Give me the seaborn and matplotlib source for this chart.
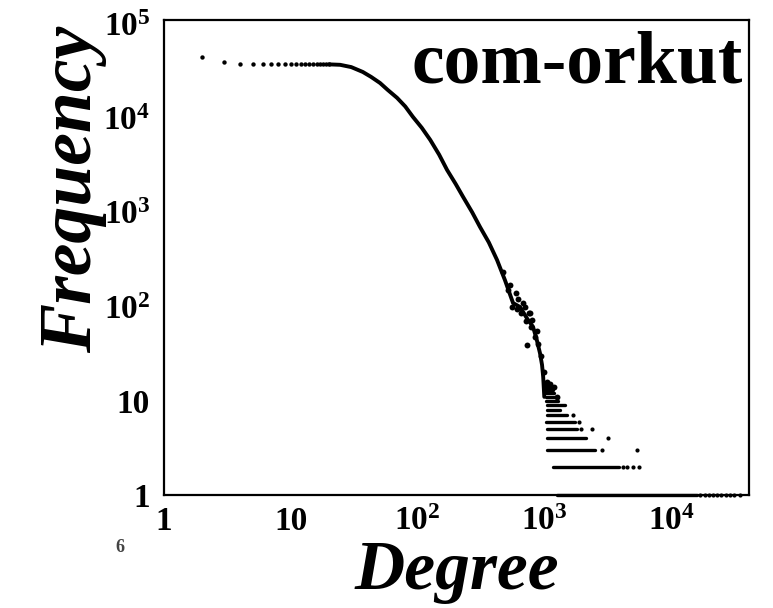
import matplotlib
matplotlib.use("Agg")
import matplotlib.pyplot as plt
import numpy as np
import pandas as pd
import seaborn as sns

sns.set_theme(style="white")
plt.rcParams["font.family"] = ["Liberation Serif", "DejaVu Serif"]
plt.rcParams["font.weight"] = "bold"
plt.rcParams["text.color"] = "black"
plt.rcParams["axes.labelcolor"] = "black"
plt.rcParams["mathtext.fontset"] = "custom"
plt.rcParams["mathtext.rm"] = "Liberation Serif:bold"
plt.rcParams["mathtext.it"] = "Liberation Serif:bold:italic"
plt.rcParams["mathtext.bf"] = "Liberation Serif:bold"

# low degrees: single visible dots
low_deg = [2, 3, 4, 5, 6, 7, 8, 9, 10, 11, 12, 13, 14, 15, 16, 17, 18, 19, 20]
low_freq = [44700, 39600, 37800, 37300, 37200, 37300, 37400, 37500, 37500, 37600,
            37600, 37600, 37600, 37500, 37500, 37400, 37300, 37300, 37200]

# dense part of the distribution (drawn as a thick trace)
curve_deg = [20, 24.5, 30, 37, 43, 50.6, 58, 69, 80, 92, 108, 126, 148, 171, 200,
             229, 270, 311, 365, 424, 490, 567, 644, 730, 815, 870, 925, 960, 980,
             1000]
curve_freq = [37200, 36800, 34800, 30900, 27400, 23600, 20000, 16400, 13300, 10300,
              7900, 5870, 4100, 2820, 2000, 1456, 1000, 700, 480, 312, 190, 109,
              99, 75, 61, 45, 32, 24, 18, 11]

# scattered points around the cap at ~1000
cloud_deg = [470, 520, 540, 560, 600, 620, 660, 700, 720, 760, 780, 800, 850, 880,
             900, 940, 990, 1050, 1100, 1200, 1250, 730, 770, 610, 680]
cloud_freq = [230, 150, 170, 100, 140, 120, 85, 100, 70, 85, 60, 72, 48, 55, 40, 30,
              20, 16, 15, 14, 11, 39, 86, 95, 110]

# tail: rows of constant small frequency
row_freq = [1, 2, 3, 4, 5, 6, 7, 8, 9, 10, 11, 12, 13, 14, 15]
row_start = [1260, 1170, 1050, 1050, 1050, 1040, 1050, 1050, 1050, 1040, 1030,
             1030, 1020, 1020, 1010]
row_end = [16000, 3900, 2500, 2150, 1800, 1740, 1500, 1330, 1450, 1280, 1250,
           1200, 1180, 1150, 1120]

tail_deg = [17000, 18500, 20000, 21500, 23000, 25000, 27000, 29000, 31500, 35000,
            4200, 4500, 5000, 5600, 2850, 5370, 3200, 1960, 2400, 1880, 1680]
tail_freq = [1, 1, 1, 1, 1, 1, 1, 1, 1, 1, 2, 2, 2, 2, 3, 3, 4, 5, 5, 6, 7]

rows = pd.DataFrame({
    "row": np.repeat(np.arange(len(row_freq)), 2),
    "degree": np.ravel(np.column_stack([row_start, row_end])),
    "freq": np.repeat(row_freq, 2),
})

fig = plt.figure(figsize=(7.73, 6.08), dpi=100)
ax = fig.add_axes([164 / 773, 113 / 608, 585 / 773, 475 / 608])
ax.set(xscale="log", yscale="log")

sns.lineplot(x=curve_deg, y=curve_freq, color="black", lw=2.8, sort=False,
             estimator=None, ax=ax)
sns.lineplot(data=rows, x="degree", y="freq", units="row", estimator=None,
             color="black", lw=2.4, ax=ax)
sns.scatterplot(x=low_deg, y=low_freq, color="black", s=10, linewidth=0, ax=ax)
sns.scatterplot(x=cloud_deg, y=cloud_freq, color="black", s=18, linewidth=0, ax=ax)
sns.scatterplot(x=tail_deg, y=tail_freq, color="black", s=9, linewidth=0, ax=ax)
for art in list(ax.lines) + list(ax.collections):
    art.set_clip_on(False)
    art.set_zorder(3)

ax.set_xlim(1, 41200)
ax.set_ylim(1, 1.1e5)

xt = [1, 10, 100, 1000, 10000]
ax.set_xticks(xt)
ax.set_xticklabels(["1", "10", r"$10^{2}$", r"$10^{3}$", r"$10^{4}$"])
yt = [1, 10, 100, 1000, 10000, 100000]
ax.set_yticks(yt)
ax.set_yticklabels(["1", "10", r"$10^{2}$", r"$10^{3}$", r"$10^{4}$", r"$10^{5}$"])
ax.minorticks_off()
ax.tick_params(axis="both", which="major", direction="in", length=5, width=1.2,
               labelsize=24, colors="black", pad=10)
ax.tick_params(axis="x", pad=8)
for s in ax.spines.values():
    s.set_color("black")
    s.set_linewidth(1.6)

ax.set_xlabel("Degree", fontsize=50, fontstyle="italic", fontweight="bold",
              color="black")
ax.xaxis.set_label_coords(0.5, -0.095)
ax.set_ylabel("Frequency", fontsize=53, fontstyle="italic", fontweight="bold",
              color="black")
ax.yaxis.set_label_coords(-0.097, 0.644)

ax.text(0.99, 0.977, "com-orkut", transform=ax.transAxes, ha="right", va="top",
        fontsize=53, fontweight="bold", color="black")

fig.text(120 / 773, 1 - 548 / 608, "6", fontsize=13, color="#444444",
         ha="center", va="center")

fig.savefig("out.png", dpi=100)
